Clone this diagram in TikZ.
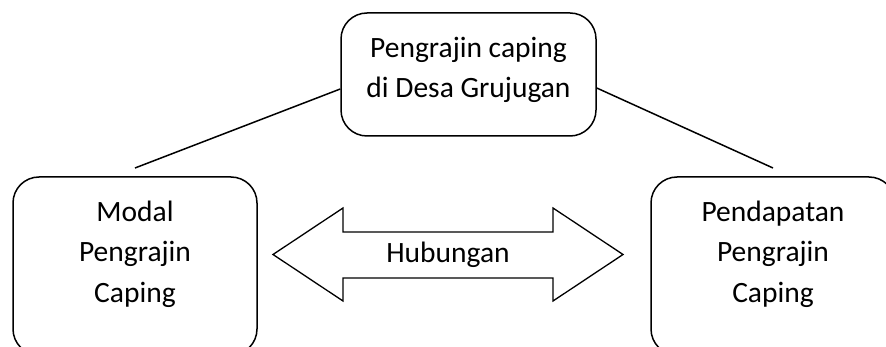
\documentclass[tikz,border=0pt]{standalone}
\usepackage{fontspec}
\setmainfont{Carlito}
\begin{document}
\begin{tikzpicture}[x=1pt,y=-1pt,
  boxstyle/.style={draw, line width=1.5pt, rounded corners=26pt, inner sep=0pt},
  txt/.style={align=center, inner sep=0pt, font=\fontsize{29.5}{40.5}\selectfont},
  conn/.style={line width=1.5pt}]
\path[use as bounding box, clip] (0,0) rectangle (886,347);
% top box
\node[boxstyle, minimum width=255pt, minimum height=123pt] (top) at (468.5,74.5) {};
\node[txt] (toptxt) at (468.5,70) {Pengrajin caping\\di Desa Grujugan};
% left box
\node[boxstyle, minimum width=244pt, minimum height=178pt] (left) at (135,266) {};
\node[txt] (lefttxt) at (135,254) {Modal\\Pengrajin\\Caping};
% right box
\node[boxstyle, minimum width=244pt, minimum height=178pt] (right) at (773,266) {};
\node[txt] (righttxt) at (773,254) {Pendapatan\\Pengrajin\\Caping};
% connectors
\coordinate (lend) at (135,168);
\coordinate (rend) at (773,168);
\draw[conn] (top.west |- 0,89) -- (lend);
\draw[conn] (top.east |- 0,88) -- (rend);
% double arrow
\draw[line width=1.3pt, line join=miter] (273,254.5) -- (343,208) -- (343,232) -- (553,232) -- (553,208) -- (623,254.5)
  -- (553,301) -- (553,278) -- (343,278) -- (343,301) -- cycle;
\node[txt] (hub) at (448,254.5) {Hubungan};
\end{tikzpicture}
\end{document}
